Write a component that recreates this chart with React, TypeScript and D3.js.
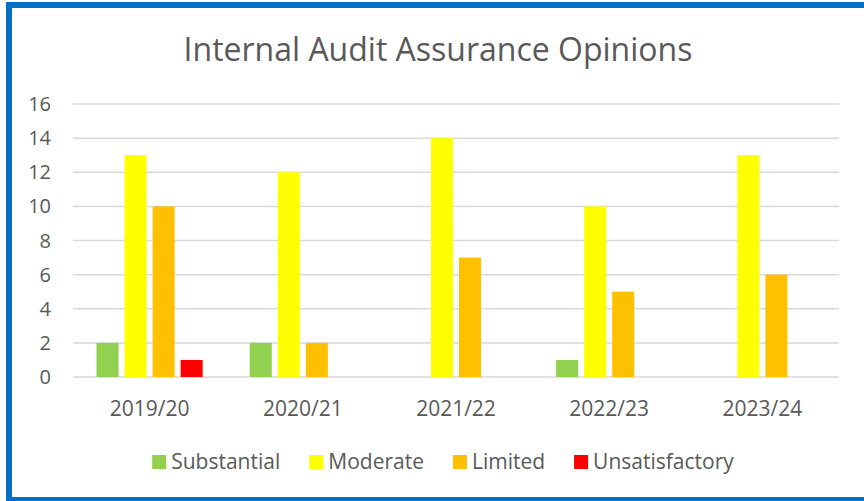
import React, { useEffect, useRef } from "react";
import * as d3 from "d3";

const categories = ["2019/20", "2020/21", "2021/22", "2022/23", "2023/24"];
const seriesNames = ["Substantial", "Moderate", "Limited", "Unsatisfactory"];
const substantial = [2, 2, 0, 1, 0];
const moderate = [13, 12, 14, 10, 13];
const limited = [10, 2, 7, 5, 6];
const unsatisfactory = [1, 0, 0, 0, 0];
const yTicks = [0, 2, 4, 6, 8, 10, 12, 14, 16];
const colors = ["#92D050", "#FFFF00", "#FFC000", "#FF0000"];

const W = 864;
const H = 501;
const FONT = "'Open Sans', 'Liberation Sans', sans-serif";
const TEXT = "#595959";

const App = () => {
  const svgRef = useRef<SVGSVGElement>(null);

  useEffect(() => {
    document.body.style.margin = "0";
    const svg = d3.select(svgRef.current);
    svg.selectAll("*").remove();

    const values = [substantial, moderate, limited, unsatisfactory];
    const left = 73;
    const right = 839;
    const top = 104;
    const bottom = 377;

    svg
      .append("rect")
      .attr("x", 9)
      .attr("y", 5)
      .attr("width", W + 20)
      .attr("height", 495)
      .attr("fill", "white")
      .attr("stroke", "#0070C8")
      .attr("stroke-width", 6);

    svg
      .append("text")
      .attr("x", 438)
      .attr("y", 61)
      .attr("text-anchor", "middle")
      .style("font-family", FONT)
      .style("font-size", "32px")
      .style("fill", TEXT)
      .text("Internal Audit Assurance Opinions");

    const y = d3.scaleLinear().domain([0, 16]).range([bottom, top]);
    const x0 = d3
      .scaleBand<string>()
      .domain(categories)
      .range([left, right])
      .paddingInner(0.268)
      .paddingOuter(0.134);
    const x1 = d3
      .scaleBand<string>()
      .domain(seriesNames)
      .range([0, x0.bandwidth()])
      .paddingInner(0.214)
      .paddingOuter(0.107);

    // gridlines
    svg
      .append("g")
      .selectAll("line")
      .data(yTicks)
      .join("line")
      .attr("x1", left)
      .attr("x2", right)
      .attr("y1", (d) => y(d))
      .attr("y2", (d) => y(d))
      .attr("stroke", "#D9D9D9")
      .attr("stroke-width", 1.5);

    svg
      .append("g")
      .selectAll("text")
      .data(yTicks)
      .join("text")
      .attr("x", 51)
      .attr("y", (d) => y(d))
      .attr("dy", "0.35em")
      .attr("text-anchor", "end")
      .style("font-family", FONT)
      .style("font-size", "20px")
      .style("fill", TEXT)
      .text((d) => d);

    const groups = svg
      .append("g")
      .selectAll("g")
      .data(categories)
      .join("g")
      .attr("transform", (d) => `translate(${x0(d)},0)`);

    groups
      .selectAll("rect")
      .data((c) =>
        seriesNames.map((s, j) => ({ s, j, v: values[j][categories.indexOf(c)] }))
      )
      .join("rect")
      .attr("x", (d) => x1(d.s)!)
      .attr("width", x1.bandwidth())
      .attr("y", (d) => y(d.v))
      .attr("height", (d) => y(0) - y(d.v))
      .attr("fill", (d) => colors[d.j]);

    svg
      .append("g")
      .selectAll("text")
      .data(categories)
      .join("text")
      .attr("x", (d) => x0(d)! + x0.bandwidth() / 2)
      .attr("y", 416)
      .attr("text-anchor", "middle")
      .style("font-family", FONT)
      .style("font-size", "21px")
      .style("fill", TEXT)
      .text((d) => d);

    // legend
    const legend = svg.append("g");
    const items = legend.selectAll("g").data(seriesNames).join("g");
    items
      .append("rect")
      .attr("y", 455)
      .attr("width", 14)
      .attr("height", 14)
      .attr("fill", (d, i) => colors[i]);
    items
      .append("text")
      .attr("x", 19)
      .attr("y", 469)
      .style("font-family", FONT)
      .style("font-size", "21px")
      .style("fill", TEXT)
      .text((d) => d);

    const widths: number[] = [];
    items.each(function () {
      const t = d3.select(this).select("text").node() as SVGTextElement;
      widths.push(19 + t.getComputedTextLength());
    });
    const gap = 29;
    const total = d3.sum(widths) + gap * (widths.length - 1);
    let cx = 443 - total / 2;
    items.attr("transform", (d, i) => {
      const tx = cx;
      cx += widths[i] + gap;
      return `translate(${tx},0)`;
    });
  }, []);

  return <svg ref={svgRef} width={W} height={H} style={{ display: "block" }} />;
};

export default App;
